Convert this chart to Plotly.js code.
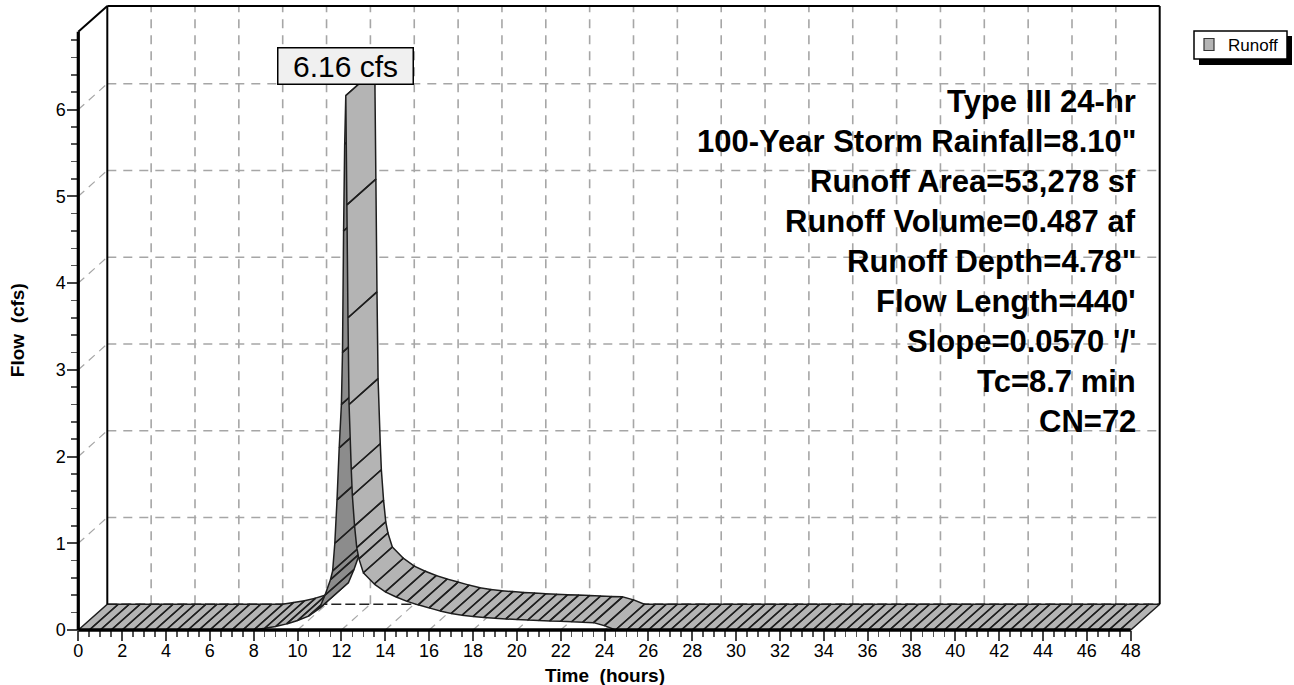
<!DOCTYPE html>
<html>
<head>
<meta charset="utf-8">
<script src="https://cdn.plot.ly/plotly-3.0.1.min.js"></script>
<style>html,body{margin:0;padding:0;background:#fff;}#chart{width:1294px;height:685px;}</style>
</head>
<body>
<div id="chart"></div>
<script>
// ---------------- data ----------------
const seriesName = 'Runoff';
const hours = [
  0,0.5,1,1.5,2,2.5,3,3.5,4,4.5,5,5.5,6,6.5,7,7.5,8,
  8.5,9,9.5,10,10.5,11,11.25,11.5,11.6,11.7,11.8,11.9,12,12.05,12.1,12.15,12.2,
  12.25,12.3,12.35,12.45,12.5,12.6,12.7,12.8,13,13.5,14,14.5,15,15.5,16,16.5,17,17.5,
  18,18.5,19,19.5,20,20.5,21,21.5,22,22.5,23,23.5,24,24.5,
  25,25.5,26,26.5,27,27.5,28,28.5,29,29.5,30,30.5,31,31.5,32,32.5,33,33.5,34,34.5,
  35,35.5,36,36.5,37,37.5,38,38.5,39,39.5,40,40.5,41,41.5,42,42.5,43,43.5,44,44.5,
  45,45.5,46,46.5,47,47.5,48
];
const flowCfs = [
  0,0,0,0,0,0,0,0,0,0,0,0,0,0,0,0,0,
  0.02,0.04,0.07,0.11,0.16,0.25,0.40,0.58,0.68,1.0,1.5,2.1,2.6,3.2,4.6,5.6,6.16,
  4.9,3.6,2.6,1.85,1.55,1.2,0.95,0.82,0.66,0.53,0.44,0.38,0.33,0.29,0.255,0.22,0.19,0.17,
  0.155,0.145,0.135,0.128,0.12,0.115,0.11,0.105,0.10,0.095,0.09,0.085,0.05,0,
  0,0,0,0,0,0,0,0,0,0,0,0,0,0,0,0,0,0,0,0,
  0,0,0,0,0,0,0,0,0,0,0,0,0,0,0,0,0,0,0,0,
  0,0,0,0,0,0,0
];
const xTickVals = [0,2,4,6,8,10,12,14,16,18,20,22,24,26,28,30,32,34,36,38,40,42,44,46,48];
const yTickVals = [0,1,2,3,4,5,6];
const peakLabel = '6.16 cfs';
const infoLines = [
  'Type III 24-hr',
  '100-Year Storm Rainfall=8.10"',
  'Runoff Area=53,278 sf',
  'Runoff Volume=0.487 af',
  'Runoff Depth=4.78"',
  "Flow Length=440'",
  "Slope=0.0570 '/'",
  'Tc=8.7 min',
  'CN=72'
];

// ---------------- geometry / style ----------------
const FONT = 'Liberation Sans, Arial, Helvetica, sans-serif';
const W = 1294, H = 685;
const ML = 70, MR = 114, MT = 0, MB = 45;
const PW = W - ML - MR, PH = H - MT - MB;   // plot area in px
const X0PX = 78.3, SX = 21.925;             // px of t=0, px per hour
const Y0PX = 630, SY = 86.75;               // px of Q=0, px per cfs
const DXPX = 29, DYPX = 25.8;               // 3-D depth offset in px
const dT = DXPX / SX, dQ = DYPX / SY;       // depth offset in data units
const xr = [(ML - X0PX) / SX, (ML + PW - X0PX) / SX];
const yr = [(Y0PX - (MT + PH)) / SY, (Y0PX - MT) / SY];
const qTop = (Y0PX - 6) / SY;               // top of back wall
const tEnd = xTickVals[xTickVals.length - 1];
const px2paperX = px => (px - ML) / PW;
const px2paperY = py => (MT + PH - py) / PH;

const traces = [];

// ---- grid (on the back wall, left wall and floor) ----
const gx = [], gy = [], wx = [], wy = [];
function seg(ax, ay, x0, y0, x1, y1) { ax.push(x0, x1, null); ay.push(y0, y1, null); }
xTickVals.forEach(t => {
  if (t === 0 || t === tEnd) return;
  seg(gx, gy, t + dT, dQ, t + dT, qTop);
  seg(wx, wy, t, 0, t + dT, dQ);
});
yTickVals.forEach(q => {
  if (q === 0) return;
  seg(gx, gy, dT, q + dQ, tEnd + dT, q + dQ);
  seg(wx, wy, 0, q, dT, q + dQ);
});
traces.push({type:'scatter', mode:'lines', x:gx, y:gy, hoverinfo:'skip', showlegend:false,
  line:{color:'#a6a6a6', width:1.6, dash:'9px,7px'}});
traces.push({type:'scatter', mode:'lines', x:wx, y:wy, hoverinfo:'skip', showlegend:false,
  line:{color:'#a6a6a6', width:1.2, dash:'8px,6px'}});
// back floor edge
traces.push({type:'scatter', mode:'lines', x:[dT, tEnd + dT], y:[dQ, dQ], hoverinfo:'skip', showlegend:false,
  line:{color:'#222', width:1.5, dash:'10px,4px'}});

// ---- the 3-D ribbon hydrograph ----
const groups = [];
let cur = null;
for (let i = 0; i < hours.length - 1; i++) {
  const t1 = hours[i], q1 = flowCfs[i], t2 = hours[i + 1], q2 = flowCfs[i + 1];
  // underside visible when the rise is steeper than the depth direction
  const dark = (q2 - q1) * SY * DXPX > (t2 - t1) * SX * DYPX;
  if (!cur || cur.dark !== dark) { cur = {dark:dark, x:[], y:[]}; groups.push(cur); }
  cur.x.push(t1, t2, t2 + dT, t1 + dT, t1, null);
  cur.y.push(q1, q2, q2 + dQ, q1 + dQ, q1, null);
}
groups.forEach(g => {
  traces.push({type:'scatter', mode:'lines', x:g.x, y:g.y, fill:'toself',
    fillcolor: g.dark ? '#8c8c8c' : '#b4b4b4', hoverinfo:'skip', showlegend:false,
    name: seriesName, line:{color:'#1e1e1e', width:1.5}});
});

// ---- frame lines ----
const shapes = [];
function lineShape(x0, y0, x1, y1, w, c) {
  shapes.push({type:'line', xref:'x', yref:'y', x0:x0, y0:y0, x1:x1, y1:y1, layer:'above',
    line:{color:c || '#000', width:w}});
}
lineShape(dT, qTop, tEnd + dT, qTop, 2);          // back top
lineShape(dT, dQ, dT, qTop, 2);                    // back left
lineShape(tEnd + dT, dQ, tEnd + dT, qTop, 2);      // back right
lineShape(0, qTop - dQ, dT, qTop, 2);              // top-left diagonal
lineShape(0, 0, 0, qTop - dQ, 3.2);                // front y axis
lineShape(0, 0, tEnd, 0, 3.5);                     // front x axis

// ---- legend (custom, with shadow) ----
shapes.push({type:'rect', xref:'paper', yref:'paper', x0:px2paperX(1199), x1:px2paperX(1292),
  y0:px2paperY(65), y1:px2paperY(36), fillcolor:'#000', line:{width:0}, layer:'above'});
shapes.push({type:'rect', xref:'paper', yref:'paper', x0:px2paperX(1194), x1:px2paperX(1287),
  y0:px2paperY(59), y1:px2paperY(31), fillcolor:'#fff', line:{color:'#000', width:1.5}, layer:'above'});
shapes.push({type:'rect', xref:'paper', yref:'paper', x0:px2paperX(1204), x1:px2paperX(1214),
  y0:px2paperY(50.5), y1:px2paperY(38.5), fillcolor:'#b4b4b4', line:{color:'#333', width:1.2}, layer:'above'});

// ---- annotations ----
const annotations = [];
let peakIdx = 0;
flowCfs.forEach((v, i) => { if (v > flowCfs[peakIdx]) peakIdx = i; });
annotations.push({xref:'x', yref:'paper', x:hours[peakIdx], y:px2paperY(66.5), text:peakLabel,
  showarrow:false, xanchor:'center', yanchor:'middle', width:132, height:33,
  bgcolor:'#f0f0f0', bordercolor:'#000', borderwidth:1.5, borderpad:1,
  font:{family:FONT, size:30, color:'#000'}});
infoLines.forEach((s, i) => {
  annotations.push({xref:'paper', yref:'paper', x:px2paperX(1138), y:px2paperY(101.7 + 40 * i),
    text:'<b>' + s + '</b>', showarrow:false, xanchor:'right', yanchor:'middle',
    font:{family:FONT, size:31, color:'#000'}});
});
annotations.push({xref:'paper', yref:'paper', x:px2paperX(1226), y:px2paperY(45), text:seriesName,
  showarrow:false, xanchor:'left', yanchor:'middle', font:{family:FONT, size:17, color:'#000'}});
annotations.push({xref:'paper', yref:'paper', x:px2paperX(605), y:px2paperY(675),
  text:'<b>Time \u00a0(hours)</b>', showarrow:false, xanchor:'center', yanchor:'middle',
  font:{family:FONT, size:19, color:'#000'}});
annotations.push({xref:'paper', yref:'paper', x:px2paperX(17.7), y:px2paperY(330.5),
  text:'<b>Flow \u00a0(cfs)</b>', showarrow:false, textangle:-90, xanchor:'center', yanchor:'middle',
  font:{family:FONT, size:19, color:'#000'}});

// minor ticks
const xMinor = [], yMinor = [];
for (let i = 0; i < xTickVals.length - 1; i++) {
  const a = xTickVals[i], b = xTickVals[i + 1];
  for (let k = 1; k < 4; k++) xMinor.push(a + (b - a) * k / 4);
}
for (let i = 0; i < yTickVals.length; i++) {
  for (let k = 1; k < 5; k++) yMinor.push(yTickVals[i] + k * 0.2);
}

const layout = {
  width:W, height:H,
  margin:{l:ML, r:MR, t:MT, b:MB, pad:0},
  paper_bgcolor:'#fff', plot_bgcolor:'#fff',
  showlegend:false,
  font:{family:FONT, color:'#000'},
  xaxis:{range:xr, anchor:'free', position:(MT + PH - Y0PX) / PH, showgrid:false, zeroline:false,
    showline:false, tickmode:'array', tickvals:xTickVals, ticktext:xTickVals.map(String),
    ticks:'outside', ticklen:10, tickwidth:2, tickcolor:'#444', ticklabelstandoff:-6,
    tickfont:{family:FONT, size:18, color:'#000'},
    minor:{tickmode:'array', tickvals:xMinor, ticks:'outside', ticklen:6, tickwidth:1.6,
      tickcolor:'#555', showgrid:false},
    fixedrange:true},
  yaxis:{range:yr, anchor:'free', position:(X0PX - ML) / PW, showgrid:false, zeroline:false,
    showline:false, tickmode:'array', tickvals:yTickVals, ticktext:yTickVals.map(String),
    ticks:'outside', ticklen:11, tickwidth:2, tickcolor:'#444', ticklabelstandoff:-2,
    tickfont:{family:FONT, size:18, color:'#000'},
    minor:{tickmode:'array', tickvals:yMinor, ticks:'outside', ticklen:7, tickwidth:1.6,
      tickcolor:'#555', showgrid:false},
    fixedrange:true},
  shapes:shapes,
  annotations:annotations
};

Plotly.newPlot('chart', traces, layout, {staticPlot:true, displayModeBar:false});
</script>
</body>
</html>
